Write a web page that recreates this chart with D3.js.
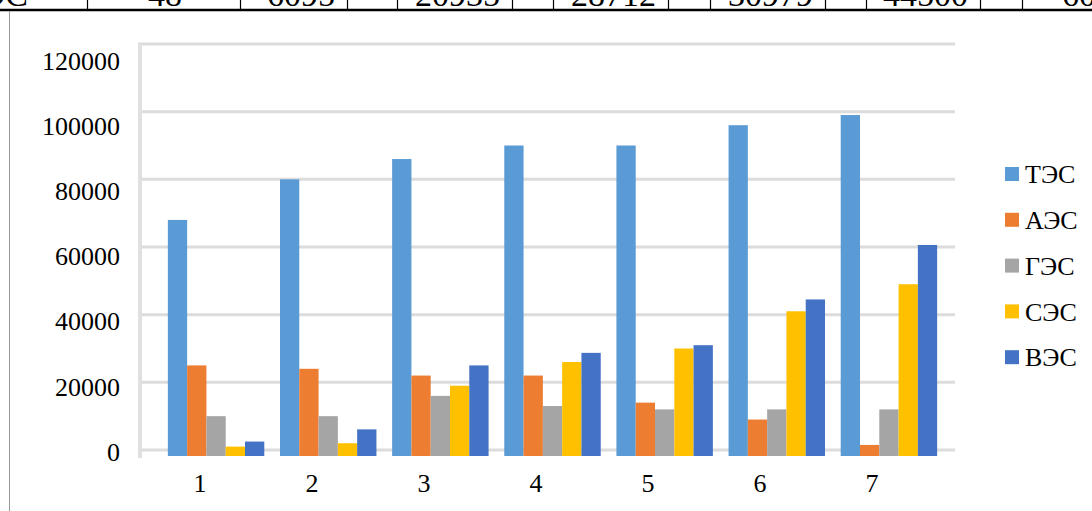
<!DOCTYPE html>
<html><head><meta charset="utf-8">
<script src="https://cdn.jsdelivr.net/npm/d3@7"></script>
<style>
html,body{margin:0;padding:0;background:#fff;}
svg{display:block;}
text{font-family:"Liberation Serif","Times New Roman",serif;fill:#000;}
</style></head><body>
<svg id="chart" width="1092" height="511"></svg>
<script>
// ---- data ----
const categories = ["1", "2", "3", "4", "5", "6", "7"];
const seriesNames = ["ТЭС", "АЭС", "ГЭС", "СЭС", "ВЭС"];
const tesValues = [68000, 80000, 86000, 90000, 90000, 96000, 99000];
const aesValues = [25000, 24000, 22000, 22000, 14000, 9000, 1500];
const gesValues = [10000, 10000, 16000, 13000, 12000, 12000, 12000];
const sesValues = [1000, 2000, 19000, 26000, 30000, 41000, 49000];
const vesValues = [2500, 6095, 25000, 28712, 30979, 44500, 60600];
const yTickValues = [0, 20000, 40000, 60000, 80000, 100000, 120000];
const tableRowTexts = ["ВЭС", "48", "6095", "20935", "28712", "30979", "44500", "60"];

const seriesValues = [tesValues, aesValues, gesValues, sesValues, vesValues];
const colors = ["#5B9BD5", "#ED7D31", "#A5A5A5", "#FFC000", "#4472C4"];

const svg = d3.select("#chart");
svg.append("rect").attr("width", 1092).attr("height", 511).attr("fill", "#fff");

// ---- table fragment at top ----
const tableX = [28, 165, 335, 500, 656, 813, 968, 1062];
const tableAnchor = ["end", "middle", "end", "end", "end", "end", "end", "start"];
svg.append("g").selectAll("text").data(tableRowTexts).join("text")
  .attr("x", (d, i) => tableX[i]).attr("y", 6)
  .attr("text-anchor", (d, i) => tableAnchor[i])
  .style("font-size", "34px").text(d => d);
const sepX = [87, 240, 347, 397, 512, 553, 668, 710, 825, 866, 980, 1022];
svg.append("g").selectAll("line").data(sepX).join("line")
  .attr("x1", d => d + 0.5).attr("x2", d => d + 0.5).attr("y1", 0).attr("y2", 10)
  .attr("stroke", "#000").attr("stroke-width", 1.2);
svg.append("line").attr("x1", 0).attr("x2", 1092).attr("y1", 10).attr("y2", 10)
  .attr("stroke", "#000").attr("stroke-width", 2.5);
svg.append("line").attr("x1", 9.5).attr("x2", 9.5).attr("y1", 11).attr("y2", 511)
  .attr("stroke", "#999").attr("stroke-width", 1);

// ---- scales ----
const plotLeft = 138, plotRight = 955;
const yPlot = d3.scaleLinear().domain([0, 120000]).range([450, 44]);
const yLabel = d3.scaleLinear().domain([0, 120000]).range([452, 61]);
const xPlot = d3.scaleBand().domain(categories).range([160, 945]).paddingInner(0.14).paddingOuter(0.07);
const xSub = d3.scaleBand().domain(seriesNames).range([0, xPlot.bandwidth()]);
const xLabel = d3.scaleBand().domain(categories).range([144, 928]);

// ---- gridlines ----
svg.append("g").selectAll("line").data(yTickValues).join("line")
  .attr("x1", plotLeft).attr("x2", plotRight)
  .attr("y1", d => yPlot(d)).attr("y2", d => yPlot(d))
  .attr("stroke", "#dcdcdc").attr("stroke-width", 3);
svg.append("line").attr("x1", plotLeft + 2).attr("x2", plotLeft + 2)
  .attr("y1", yPlot(120000)).attr("y2", 458)
  .attr("stroke", "#e0e0e0").attr("stroke-width", 4);

// ---- bars ----
const barData = [];
categories.forEach((c, ci) => {
  seriesNames.forEach((s, si) => barData.push({ c, s, si, v: seriesValues[si][ci] }));
});
svg.append("g").selectAll("rect").data(barData).join("rect")
  .attr("x", d => xPlot(d.c) + xSub(d.s))
  .attr("width", xSub.bandwidth())
  .attr("y", d => yPlot(d.v))
  .attr("height", d => yPlot(0) - yPlot(d.v) + 6)
  .attr("fill", d => colors[d.si]);

// ---- axes ----
const yAxis = svg.append("g").attr("transform", "translate(120,0)")
  .call(d3.axisLeft(yLabel).tickValues(yTickValues).tickSize(0).tickPadding(0).tickFormat(d3.format("d")));
yAxis.select(".domain").remove();
yAxis.selectAll("text").style("font-size", "26px").attr("fill", "#000")
  .style("font-family", "'Liberation Serif', serif");

const xAxis = svg.append("g").attr("transform", "translate(0,462)")
  .call(d3.axisBottom(xLabel).tickSize(0).tickPadding(11.5));
xAxis.select(".domain").remove();
xAxis.selectAll("text").style("font-size", "26px").attr("fill", "#000")
  .style("font-family", "'Liberation Serif', serif");

// ---- legend ----
const legend = svg.append("g").selectAll("g").data(seriesNames).join("g")
  .attr("transform", (d, i) => `translate(1005,${174 + i * 45.8})`);
legend.append("rect").attr("x", 0).attr("y", -7).attr("width", 14).attr("height", 14)
  .attr("fill", (d, i) => colors[i]);
legend.append("text").attr("x", 20).attr("y", 0).attr("dy", "0.35em")
  .style("font-size", "26px").text(d => d);
</script>
</body></html>
